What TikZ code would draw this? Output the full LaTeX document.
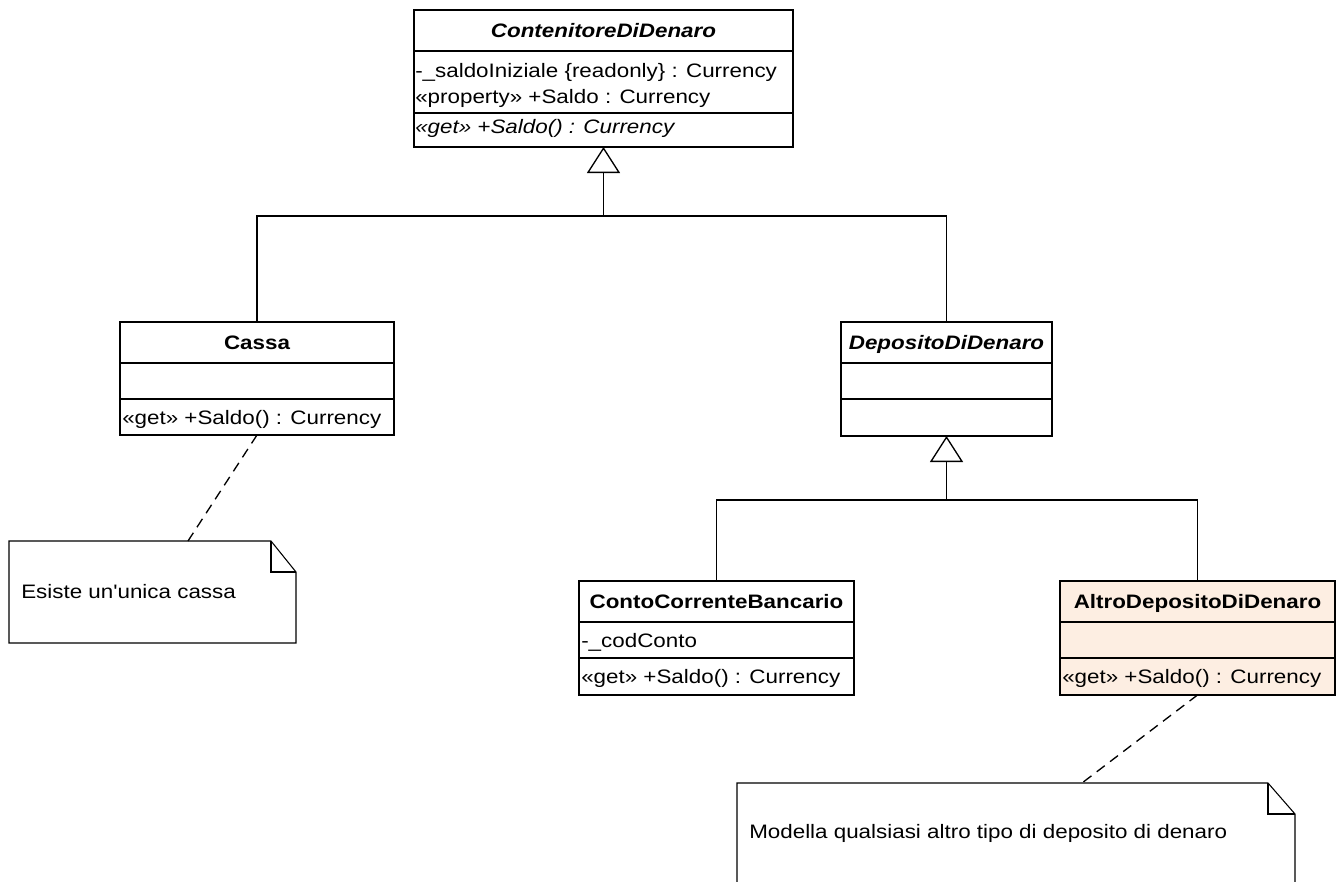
\documentclass[tikz,border=0pt]{standalone}
\usepackage{fontspec}
\setmainfont{Liberation Sans}[FakeStretch=1.15, Ligatures=TeXOff]
\usetikzlibrary{fit,arrows.meta}
\definecolor{altrofill}{HTML}{FDEEE2}
\begin{document}
\begin{tikzpicture}[x=0.75pt,y=-0.75pt,
  cls/.style={draw, line width=1.5pt, inner sep=0pt, outer sep=0pt},
  sep/.style={line width=1.5pt},
  lbl/.style={font=\fontsize{14.6}{17}\selectfont, inner sep=0pt},
  ttl/.style={font=\fontsize{14.6}{17}\selectfont\bfseries, inner sep=0pt, anchor=base},
  ittl/.style={font=\fontsize{14.6}{17}\selectfont\bfseries\itshape, inner sep=0pt, anchor=base},
  conn/.style={line width=1pt},
  gen/.style={conn, -{Triangle[open, length=19.5pt, width=24.75pt]}},
  anchorline/.style={line width=1pt, dash pattern=on 7.5pt off 5pt},
  notebox/.style={inner sep=0pt, outer sep=0pt},
  noteline/.style={line width=0.8pt}
]
\useasboundingbox (0,0) rectangle (1340,882);

% ContenitoreDiDenaro
\node[cls, fit={(414,10) (793,147)}] (cont) {};
\draw[sep] (414,51) -- (793,51);
\draw[sep] (414,113) -- (793,113);
\node[ittl] (contT) at (603.5,37) {ContenitoreDiDenaro};
\node[lbl, anchor=base west] (contA1) at (415,77) {-\_saldoIniziale \{readonly\} : Currency};
\node[lbl, anchor=base west] (contA2) at (415,103) {«property» +Saldo : Currency};
\node[lbl, anchor=base west, font=\fontsize{14.6}{17}\selectfont\itshape] (contO) at (415,133) {«get» +Saldo() : Currency};

% Cassa
\node[cls, fit={(120,322) (394,435)}] (cassa) {};
\draw[sep] (120,363) -- (394,363);
\draw[sep] (120,399) -- (394,399);
\node[ttl] (cassaT) at (257,349) {Cassa};
\node[lbl, anchor=base west] (cassaO) at (122,424) {«get» +Saldo() : Currency};

% DepositoDiDenaro
\node[cls, fit={(841,322) (1052,436)}] (dep) {};
\draw[sep] (841,363) -- (1052,363);
\draw[sep] (841,399) -- (1052,399);
\node[ittl] (depT) at (946.5,349) {DepositoDiDenaro};

% ContoCorrenteBancario
\node[cls, fit={(579,581) (854,695)}] (conto) {};
\draw[sep] (579,622) -- (854,622);
\draw[sep] (579,658) -- (854,658);
\node[ttl] (contoT) at (716.5,608) {ContoCorrenteBancario};
\node[lbl, anchor=base west] (contoA) at (581,647) {-\_codConto};
\node[lbl, anchor=base west] (contoO) at (581,683) {«get» +Saldo() : Currency};

% AltroDepositoDiDenaro
\node[cls, fill=altrofill, fit={(1060,581) (1335,695)}] (altro) {};
\draw[sep] (1060,622) -- (1335,622);
\draw[sep] (1060,658) -- (1335,658);
\node[ttl] (altroT) at (1197.5,608) {AltroDepositoDiDenaro};
\node[lbl, anchor=base west] (altroO) at (1062,683) {«get» +Saldo() : Currency};

% generalizations
\coordinate (h1) at (603.5,216);
\draw[conn] (cassa.north) |- (h1) -| (dep.north);
\draw[gen] (h1) -- (cont.south);
\coordinate (h2) at (946.5,500);
\draw[conn] (conto.north) |- (h2) -| (altro.north);
\draw[gen] (h2) -- (dep.south);

% Note 1
\node[notebox, fit={(9,541) (296,643)}] (note1) {};
\draw[noteline] (9,541) -- (271,541) -- (296,572) -- (296,643) -- (9,643) -- cycle;
\draw[noteline] (271,541) -- (271,572) -- (296,572);
\node[lbl, anchor=base west] (note1T) at (21,598) {Esiste un'unica cassa};
\coordinate (n1a) at (188,541);
\draw[anchorline] (cassa.south) -- (n1a);

% Note 2
\node[notebox, fit={(737,783) (1295,882)}] (note2) {};
\draw[noteline] (737,882) -- (737,783) -- (1268,783) -- (1295,814) -- (1295,882);
\draw[noteline] (1268,783) -- (1268,814) -- (1295,814);
\node[lbl, anchor=base west] (note2T) at (749,838) {Modella qualsiasi altro tipo di deposito di denaro};
\coordinate (n2a) at (1082,783);
\draw[anchorline] (altro.south) -- (n2a);
\end{tikzpicture}
\end{document}
